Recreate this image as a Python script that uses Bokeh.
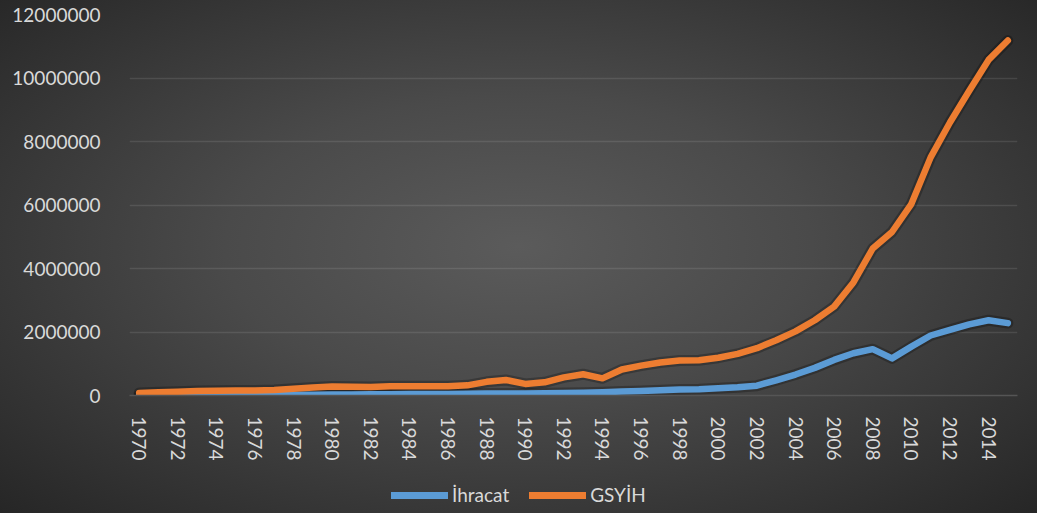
from bokeh.plotting import figure
from bokeh.models import (Range1d, FixedTicker, BasicTickFormatter, Legend, LegendItem,
                          ColumnDataSource)
from bokeh.layouts import column
from bokeh.embed import file_html
from bokeh.resources import INLINE

years = list(range(1970, 2016))
ihracat = [8000, 10000, 12000, 15000, 17000, 17000, 19000, 20000, 24000, 26000,
           30000, 35000, 38000, 40000, 45000, 48000, 50000, 55000, 60000, 62000,
           65000, 72000, 80000, 90000, 105000, 125000, 145000, 165000, 190000, 195000,
           230000, 260000, 310000, 480000, 660000, 870000, 1120000, 1330000, 1460000, 1170000,
           1540000, 1890000, 2070000, 2240000, 2370000, 2280000]
gsyih = [80000, 100000, 120000, 140000, 150000, 155000, 160000, 175000, 210000, 250000,
         285000, 275000, 265000, 290000, 295000, 295000, 290000, 320000, 430000, 490000,
         365000, 415000, 570000, 670000, 540000, 820000, 940000, 1040000, 1100000, 1110000,
         1190000, 1310000, 1490000, 1740000, 2020000, 2370000, 2800000, 3560000, 4630000, 5150000,
         6030000, 7500000, 8600000, 9600000, 10570000, 11180000]
y_ticks = [0, 2000000, 4000000, 6000000, 8000000, 10000000, 12000000]
x_ticks = list(range(1970, 2016, 2))
series_names = ["İhracat", "GSYİH"]
colors = ["#5B9BD5", "#ED7D31"]

src = ColumnDataSource(dict(x=years, a=ihracat, b=gsyih))

font = "Lato"
txt = "#d9d9d9"

p = figure(width=1037, height=470, output_backend="svg", toolbar_location=None,
           x_range=Range1d(1969.5, 2015.5), y_range=Range1d(0, 12000000),
           min_border_left=129, min_border_right=20, min_border_top=14, min_border_bottom=75)
p.background_fill_color = None
p.border_fill_color = None
p.outline_line_color = None

p.xaxis.ticker = FixedTicker(ticks=x_ticks)
p.yaxis.ticker = FixedTicker(ticks=y_ticks)
p.yaxis.formatter = BasicTickFormatter(use_scientific=False)
p.xaxis.major_label_orientation = "vertical"
for ax in (p.xaxis, p.yaxis):
    ax.major_label_text_font = font
    ax.major_label_text_font_size = "19px"
    ax.major_label_text_color = txt
    ax.major_tick_line_color = None
    ax.minor_tick_line_color = None
p.yaxis.axis_line_color = None
p.xaxis.axis_line_color = "#555555"
p.xaxis.axis_line_width = 1.5
p.yaxis.major_label_standoff = 23
p.xaxis.major_label_standoff = 15

p.xgrid.grid_line_color = None
p.ygrid.grid_line_color = "white"
p.ygrid.grid_line_alpha = 0.1
p.ygrid.grid_line_width = 1.5

# soft shadows
for col in ("a", "b"):
    p.line("x", col, source=src, line_color="black", line_alpha=0.25, line_width=11,
           line_cap="round", line_join="round")

p.line("x", "a", source=src, line_color=colors[0], line_width=6.5,
       line_cap="round", line_join="round")
p.line("x", "b", source=src, line_color=colors[1], line_width=6.5,
       line_cap="round", line_join="round")

# legend strip below the chart (its renderers hold no visible data)
lg = figure(width=1037, height=43, output_backend="svg", toolbar_location=None,
            x_range=Range1d(0, 1), y_range=Range1d(0, 1),
            x_axis_location=None, y_axis_location=None,
            min_border_left=0, min_border_right=0, min_border_top=0, min_border_bottom=0)
lg.background_fill_color = None
lg.border_fill_color = None
lg.outline_line_color = None
lg.grid.grid_line_color = None
blank = ColumnDataSource(dict(x=[float("nan")], y=[float("nan")]))
l1 = lg.line("x", "y", source=blank, line_color=colors[0], line_width=7, line_cap="round")
l2 = lg.line("x", "y", source=blank, line_color=colors[1], line_width=7, line_cap="round")

legend = Legend(items=[LegendItem(label=series_names[0], renderers=[l1]),
                       LegendItem(label=series_names[1], renderers=[l2])],
                orientation="horizontal", location=(262, 7),
                background_fill_alpha=0, border_line_color=None,
                label_text_font=font, label_text_font_size="19px", label_text_color=txt,
                glyph_width=57, glyph_height=20, label_height=20, label_standoff=4,
                spacing=20, padding=0, margin=0)
lg.add_layout(legend, "center")

layout = column(p, lg, spacing=0,
                styles={"background": "radial-gradient(ellipse farthest-corner at 50% 48%, #5b5b5b 0%, #4a4a4a 40%, #262626 100%)"})

open("out.html", "w").write(file_html(layout, INLINE))
